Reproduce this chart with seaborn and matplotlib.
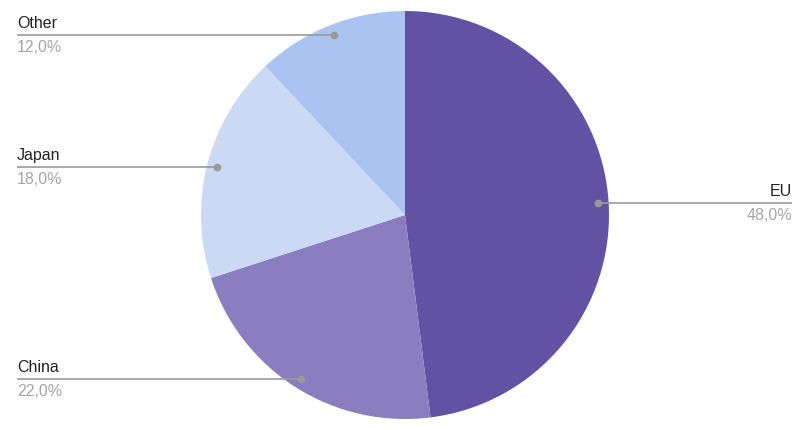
import matplotlib
matplotlib.use("Agg")
import matplotlib.pyplot as plt
import seaborn as sns
import numpy as np

categories = ["EU", "China", "Japan", "Other"]
values = [48.0, 22.0, 18.0, 12.0]
colors = ["#6351a3", "#8a7ec0", "#cbd9f5", "#abc3f0"]
pct_labels = ["48,0%", "22,0%", "18,0%", "12,0%"]

sns.set_theme(style="white")
plt.rcParams['font.family'] = ['Liberation Sans', 'DejaVu Sans']

W, H = 800, 431
fig = plt.figure(figsize=(W / 100, H / 100), dpi=100)
ax = fig.add_axes([0, 0, 1, 1])

cx, cy, r = 405, H - 216, 204
wedges, _ = ax.pie(values, colors=colors, startangle=90, counterclock=False,
                   center=(cx, cy), radius=r, frame=True,
                   wedgeprops=dict(linewidth=0))
ax.set_xlim(0, W)
ax.set_ylim(0, H)
ax.set_aspect("equal")
ax.axis("off")

total = sum(values)
cum = 0
for name, v, pl in zip(categories, values, pct_labels):
    mid = (cum + v / 2) / total * 2 * np.pi
    cum += v
    px = cx + 0.95 * r * np.sin(mid)
    py = cy + 0.95 * r * np.cos(mid)
    if px > cx:
        x_end = 792
        ha = "right"
    else:
        x_end = 17
        ha = "left"
    ax.plot([px, x_end], [py, py], color="#999999", lw=1.2, solid_capstyle="butt")
    ax.plot([px], [py], "o", color="#999999", ms=4.5)
    ax.text(x_end, py + 12, name, ha=ha, va="center", fontsize=11.5, color="#222222")
    ax.text(x_end, py - 12, pl, ha=ha, va="center", fontsize=11.5, color="#a5a5a5")

fig.savefig("out.png", dpi=100)
